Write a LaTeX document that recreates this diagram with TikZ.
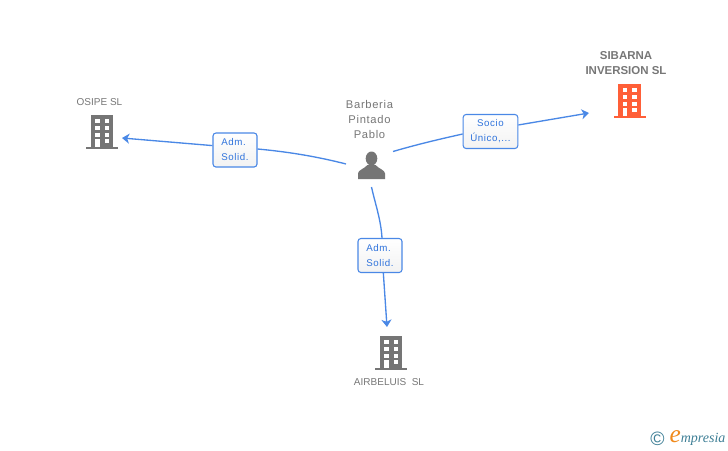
\documentclass[tikz,border=0pt]{standalone}
\usepackage{fontspec}
\setmainfont{Liberation Sans}
\newfontfamily\spacedfont[LetterSpace=6]{Liberation Sans}
\newfontfamily\logofont{Liberation Serif}
\usepackage{tikz}
\usetikzlibrary{positioning}
\usetikzlibrary{arrows.meta}
\definecolor{linkblue}{HTML}{4A88E6}
\definecolor{textblue}{HTML}{2F73DC}
\definecolor{icongray}{HTML}{757575}
\definecolor{textgray}{HTML}{777777}
\definecolor{iconred}{HTML}{FF5F38}
\definecolor{logoteal}{HTML}{3E7F96}
\definecolor{logoorange}{HTML}{F08A1D}
\tikzset{link/.style={draw=linkblue,line width=1pt}}
\tikzset{tag/.style={draw=linkblue,line width=0.8pt,rounded corners=2.2pt,top color=white,bottom color=white!95!black,text=textblue,font=\spacedfont\fontsize{7.3}{11.25}\selectfont,inner sep=0pt,minimum height=25.5pt}}
\tikzset{caption/.style={text=textgray,font=\fontsize{7.5}{11.25}\selectfont,inner sep=0pt,align=center}}
\tikzset{building/.pic={
    \fill[#1] (-11.3,0) rectangle (11.3,31.5);
    \fill[#1] (-16,31.5) rectangle (16,34);
    \foreach \wy in {4,11,17.5,24}
        \fill[white] (2.7,\wy) rectangle (7.3,\wy+4.3);
    \foreach \wy in {4,11,17.5}
        \fill[white] (-7,\wy) rectangle (-2.5,\wy+4.3);
    \fill[white] (-7,24) rectangle (-2.5,31.5);
}}
\begin{document}
\begin{tikzpicture}[x=0.75pt,y=-0.75pt,>={Stealth[length=5.5pt,width=7.5pt,inset=1.6pt]}]
        \useasboundingbox[fill=white] (0,0) rectangle (728,450);
        \pic at (102,115) {building=icongray};
        \pic at (629.5,84) {building=iconred};
        \pic at (391,336) {building=icongray};
        \fill[icongray] (371.5,158.5) ellipse (5.8 and 7);
        \fill[icongray] (358,179) -- (358,173.5) .. controls (358,170) and (364,169) .. (367.5,165) -- (375.5,165) .. controls (379,169) and (385,170) .. (385,173.5) -- (385,179) -- cycle;
        \node[caption] (osipe) at (99.5,102) {OSIPE SL};
        \node[caption,font=\spacedfont\fontsize{8.4}{11.25}\selectfont] (barberia) at (369.5,119) {Barberia\\Pintado\\Pablo};
        \node[caption,font=\bfseries\fontsize{8.6}{11.25}\selectfont] (sibarna) at (626,63) {SIBARNA\\INVERSION SL};
        \node[caption] (airbeluis) at (389,382.5) {AIRBELUIS\ \ SL};
        \node[tag,minimum width=33pt,align=left] (adm1) at (235,150) {Adm.\\Solid.};
        \node[tag,minimum width=41pt,align=center] (socio) at (490.5,131.5) {Socio\\Único,...};
        \node[tag,minimum width=33pt,align=left] (adm2) at (380,255.5) {Adm.\\Solid.};
        \coordinate (persleft) at (346,164);
        \coordinate (persright) at (393,151.5);
        \coordinate (persdown) at (371.5,187);
        \coordinate (osipeend) at (122,138);
        \coordinate (sibarnaend) at (589,113);
        \coordinate (airbeluisend) at (387,327);
            \path[link] (persleft) .. controls (315,156) and (285,151.5) .. ([yshift=0.75pt]adm1.east);
            \path[link,->] ([yshift=3.3pt]adm1.west) -- (osipeend);
            \path[link] (persright) .. controls (415,145) and (440,139) .. ([yshift=-1.9pt]socio.west);
            \path[link,->] ([yshift=4.9pt]socio.east) -- (sibarnaend);
            \path[link] (persdown) .. controls (375,203) and (381,220) .. ([xshift=1.5pt]adm2.north);
            \path[link,->] ([xshift=2.5pt]adm2.south) -- (airbeluisend);
        \node[text=logoteal,font=\fontsize{14.5}{14.5}\selectfont,inner sep=0pt] (copyr) at (657.5,438.5) {©};
        \node[text=logoteal,font=\logofont\itshape\fontsize{10.5}{11}\selectfont,inner sep=0pt,right=3.3pt of copyr] (logo) {\textcolor{logoorange}{\fontsize{19}{11}\selectfont e}mpresia};
    \end{tikzpicture}
\end{document}
